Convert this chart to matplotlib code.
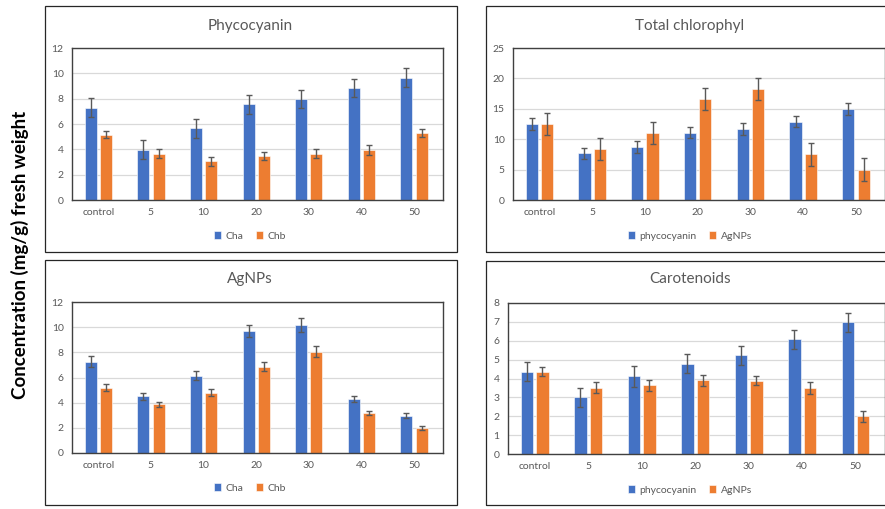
import matplotlib
matplotlib.use("Agg")
import matplotlib.pyplot as plt
import numpy as np
from matplotlib.patches import Rectangle

categories = ["control", "5", "10", "20", "30", "40", "50"]

# Phycocyanin panel
phyco_cha = [7.3, 3.95, 5.67, 7.55, 7.97, 8.85, 9.65]
phyco_cha_err = [0.72, 0.75, 0.74, 0.74, 0.72, 0.74, 0.74]
phyco_chb = [5.17, 3.66, 3.05, 3.47, 3.66, 3.95, 5.27]
phyco_chb_err = [0.3, 0.34, 0.37, 0.32, 0.34, 0.37, 0.32]

# Total chlorophyl panel
chl_phyco = [12.47, 7.7, 8.75, 11.1, 11.65, 12.9, 15.0]
chl_phyco_err = [1.0, 0.93, 1.0, 0.95, 1.0, 0.95, 0.95]
chl_agnp = [12.47, 8.4, 11.0, 16.6, 18.25, 7.5, 5.0]
chl_agnp_err = [1.8, 1.85, 1.85, 1.85, 1.85, 1.85, 1.9]

# AgNPs panel
ag_cha = [7.26, 4.5, 6.15, 9.7, 10.17, 4.27, 2.97]
ag_cha_err = [0.42, 0.27, 0.37, 0.47, 0.55, 0.25, 0.18]
ag_chb = [5.19, 3.87, 4.8, 6.86, 8.05, 3.18, 1.96]
ag_chb_err = [0.27, 0.2, 0.25, 0.37, 0.45, 0.18, 0.15]

# Carotenoids panel
car_phyco = [4.37, 3.0, 4.12, 4.79, 5.23, 6.08, 6.98]
car_phyco_err = [0.5, 0.5, 0.55, 0.5, 0.5, 0.5, 0.5]
car_agnp = [4.37, 3.52, 3.63, 3.91, 3.89, 3.49, 1.99]
car_agnp_err = [0.25, 0.28, 0.3, 0.3, 0.25, 0.3, 0.3]

BLUE = "#4472C4"
ORANGE = "#ED7D31"
GREY = "#595959"

W, H = 885, 509
plt.rcParams["font.family"] = ["Lato", "DejaVu Sans"]

fig = plt.figure(figsize=(W / 100, H / 100), dpi=100)


def px_rect(x0, y0, x1, y1):
    """pixel box (top-left origin) -> figure fraction [l, b, w, h]"""
    return [x0 / W, 1 - y1 / H, (x1 - x0) / W, (y1 - y0) / H]


def panel(box, plot, title, title_y, s1, s2, names, ymax, ystep, legend_y):
    bx = px_rect(*box)
    fig.patches.append(Rectangle((bx[0], bx[1]), bx[2], bx[3], transform=fig.transFigure,
                                 fill=False, edgecolor="#262626", linewidth=0.9))
    ax = fig.add_axes(px_rect(*plot))
    x = np.arange(len(categories))
    w, off = 0.23, 0.145
    (v1, e1), (v2, e2) = s1, s2
    ekw = dict(ecolor=GREY, elinewidth=1.0, capsize=2.5, capthick=1.0)
    ax.bar(x - off, v1, w, color=BLUE, edgecolor="white", linewidth=0.4,
           yerr=e1, error_kw=ekw, label=names[0], zorder=2)
    ax.bar(x + off, v2, w, color=ORANGE, edgecolor="white", linewidth=0.4,
           yerr=e2, error_kw=ekw, label=names[1], zorder=2)
    ax.set_xlim(-0.5, 6.55)
    ax.set_ylim(0, ymax)
    ax.set_yticks(np.arange(0, ymax + 0.1, ystep))
    ax.set_xticks(x, categories)
    ax.grid(axis="y", color="#D9D9D9", linewidth=0.9, zorder=0)
    ax.set_axisbelow(True)
    for s in ax.spines.values():
        s.set_color("#404040")
        s.set_linewidth(1.0)
    ax.tick_params(length=0, labelsize=7.5, labelcolor=GREY, pad=6)
    cx = 250 if box[0] < 100 else 690
    fig.text(cx / W, 1 - title_y / H, title, ha="center", va="center",
             fontsize=11, color=GREY)
    ax.legend(loc="center", bbox_to_anchor=(cx / W, 1 - legend_y / H),
              bbox_transform=fig.transFigure,
              frameon=False, ncol=2, fontsize=7.5, handlelength=0.7, handleheight=0.7,
              handletextpad=0.4, columnspacing=1.2, labelcolor=GREY)
    return ax


panel((45, 6, 457, 252), (72, 48, 443, 200), "Phycocyanin", 26,
      (phyco_cha, phyco_cha_err), (phyco_chb, phyco_chb_err), ("Cha", "Chb"), 12, 2, 236)
panel((486, 6, 905, 252), (513, 48, 885, 200), "Total chlorophyl", 26,
      (chl_phyco, chl_phyco_err), (chl_agnp, chl_agnp_err), ("phycocyanin", "AgNPs"), 25, 5, 236)
panel((45, 260, 457, 505), (72, 302, 443, 453), "AgNPs", 279,
      (ag_cha, ag_cha_err), (ag_chb, ag_chb_err), ("Cha", "Chb"), 12, 2, 488)
panel((486, 261, 905, 505), (508, 303, 885, 454), "Carotenoids", 279,
      (car_phyco, car_phyco_err), (car_agnp, car_agnp_err), ("phycocyanin", "AgNPs"), 8, 1, 490)

fig.text(20 / W, 1 - 255 / H, "Concentration (mg/g) fresh weight", rotation=90,
         ha="center", va="center", fontsize=13.5, fontweight="bold", color="black")

fig.savefig("out.png", dpi=100)
